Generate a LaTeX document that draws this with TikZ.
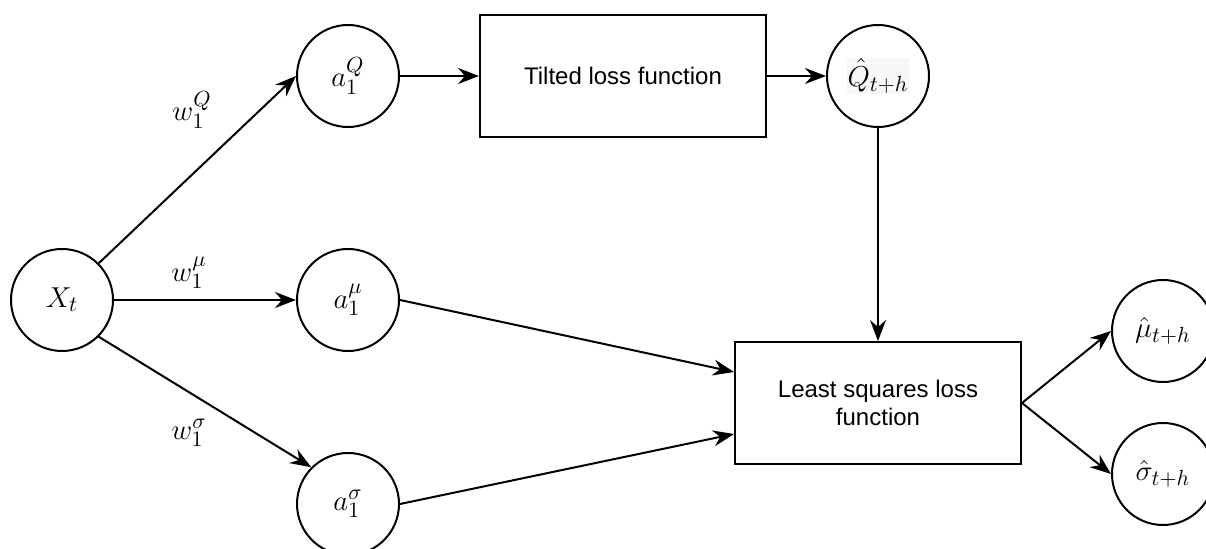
\documentclass[tikz,border=0pt]{standalone}
\usepackage{fontspec}
\setmainfont{Liberation Sans}
\usetikzlibrary{arrows.meta,calc}

\begin{document}
\begin{tikzpicture}[x=0.5pt,y=-0.5pt,
  neuron/.style={draw, circle, line width=1pt, minimum size=51pt, inner sep=0pt,
                 font=\fontsize{15}{18}\selectfont},
  lossbox/.style={draw, rectangle, line width=1pt, minimum width=143pt, minimum height=61pt,
                  inner sep=0pt, align=center, font=\fontsize{12}{14}\selectfont},
  wire/.style={line width=1pt, -{Stealth[length=10.5pt,width=8pt,inset=3.5pt]}},
  weight/.style={font=\fontsize{15}{18}\selectfont, inner sep=0pt}]

\useasboundingbox (0,0) rectangle (1206,549);

% input and hidden units
\node[neuron] (X)    at (62,300)  {$X_t$};
\node[neuron] (aQ)   at (348,76)  {$a_1^{Q}$};
\node[neuron] (amu)  at (348,300) {$a_1^{\mu}$};
\node[neuron] (asig) at (348,504) {$a_1^{\sigma}$};

% loss blocks
\node[lossbox] (tilted) at (623,76)  {Tilted loss function};
\node[lossbox] (ls)     at (878,403) {Least squares loss\\function};

% outputs
\node[neuron] (Qhat)   at (878,76)   {\setlength{\fboxsep}{0.5pt}\colorbox{black!3}{$\hat{Q}_{t+h}$}};
\node[neuron] (muhat)  at (1163,331) {$\hat{\mu}_{t+h}$};
\node[neuron] (sighat) at (1163,474) {$\hat{\sigma}_{t+h}$};

% weight labels
\node[weight] (wQ)   at (192,110) {$w_1^{Q}$};
\node[weight] (wmu)  at (189,273) {$w_1^{\mu}$};
\node[weight] (wsig) at (189,433) {$w_1^{\sigma}$};

% entry points on the left side of the least squares block
\coordinate (lsin1) at ($(ls.north west)!0.25!(ls.south west)$);
\coordinate (lsin2) at ($(ls.north west)!0.75!(ls.south west)$);

% connections
\draw[wire] (X.north east) -- (aQ.west);
\draw[wire] (X.east) -- (amu.west);
\draw[wire] (X.south east) -- (asig.north west);
\draw[wire] (aQ.east) -- (tilted.west);
\draw[wire] (tilted.east) -- (Qhat.west);
\draw[wire] (Qhat.south) -- (ls.north);
\draw[wire] (amu.east) -- (lsin1);
\draw[wire] (asig.east) -- (lsin2);
\draw[wire] (ls.east) -- (muhat.west);
\draw[wire] (ls.east) -- (sighat.west);
\end{tikzpicture}
\end{document}
